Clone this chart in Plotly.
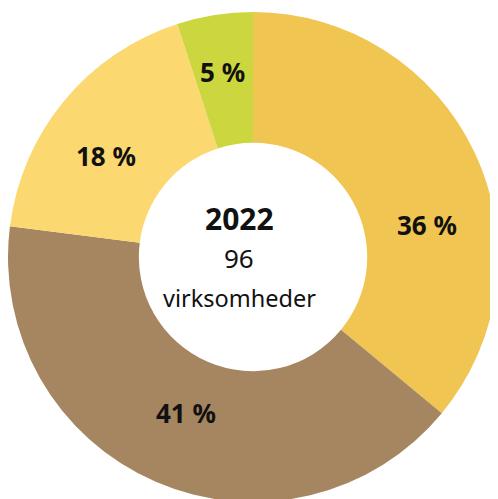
import plotly.graph_objects as go

categories = ["A", "B", "C", "D"]
values = [36, 41, 18, 5]
labels = ["36 %", "41 %", "18 %", "5 %"]
colors = ["#F0C552", "#A58660", "#FCD870", "#CCD740"]
year = "2022"
count = "96"
unit = "virksomheder"

# label positions (paper coords), styling only
label_xy = [(0.841, 0.565), (0.357, 0.188), (0.197, 0.703), (0.430, 0.872)]

fig = go.Figure(go.Pie(
    labels=categories,
    values=values,
    textinfo="none",
    marker=dict(colors=colors, line=dict(width=0)),
    hole=0.466,
    sort=False,
    direction="clockwise",
    rotation=0,
    domain=dict(x=[0.0, 0.984], y=[0.010, 0.992]),
    hoverinfo="skip",
    showlegend=False,
))

for lab, (lx, ly) in zip(labels, label_xy):
    fig.add_annotation(x=lx, y=ly, xref="paper", yref="paper",
                       xanchor="center", yanchor="middle",
                       text=f"<b>{lab}</b>", showarrow=False,
                       font=dict(family="Noto Sans", size=26, color="#111111"))

cx = 0.464
fig.add_annotation(x=cx, y=0.579, xref="paper", yref="paper",
                   xanchor="center", yanchor="middle",
                   text=f"<b>{year}</b>", showarrow=False,
                   font=dict(family="Noto Sans", size=30, color="#111111"))
fig.add_annotation(x=cx, y=0.499, xref="paper", yref="paper",
                   xanchor="center", yanchor="middle",
                   text=count, showarrow=False,
                   font=dict(family="Noto Sans", size=26, color="#111111"))
fig.add_annotation(x=cx, y=0.419, xref="paper", yref="paper",
                   xanchor="center", yanchor="middle",
                   text=unit, showarrow=False,
                   font=dict(family="Noto Sans", size=23.5, color="#111111"))

fig.update_layout(
    width=498, height=499,
    margin=dict(l=0, r=0, t=0, b=0),
    paper_bgcolor="white",
    plot_bgcolor="white",
)

fig.write_html("out.html")
